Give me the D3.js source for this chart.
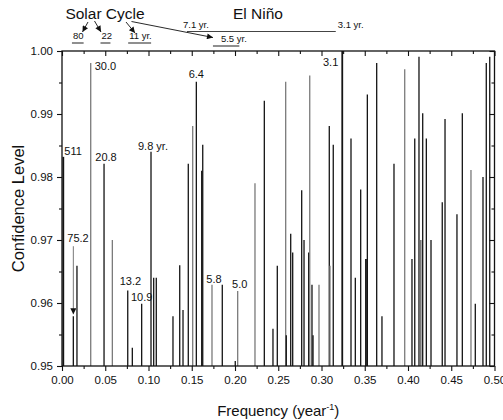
<!DOCTYPE html>
<html>
<head>
<meta charset="utf-8">
<script src="https://cdn.jsdelivr.net/npm/d3@7"></script>
<style>
  body { margin: 0; background: #fff; }
  svg text { font-family: "Liberation Sans", Arial, sans-serif; fill: #111; }
</style>
</head>
<body>
<svg width="503" height="420"></svg>
<script>
//  Data: frequency (1/year) and confidence level of each peak
const freqs = [
    0.0015, 0.0131, 0.0173, 0.0332, 0.0486, 0.0582, 0.0760, 0.0813, 0.0921, 0.1029,
    0.1060, 0.1090, 0.1283, 0.1361, 0.1399, 0.1460, 0.1511, 0.1553, 0.1615, 0.1627,
    0.1734, 0.1853, 0.2003, 0.2031, 0.2231, 0.2339, 0.2439, 0.2489, 0.2586, 0.2593,
    0.2644, 0.2667, 0.2771, 0.2798, 0.2852, 0.2864, 0.2890, 0.2902, 0.2971, 0.3090,
    0.3098, 0.3136, 0.3240, 0.3341, 0.3391, 0.3453, 0.3514, 0.3530, 0.3638, 0.3699,
    0.3838, 0.3962, 0.4046, 0.4078, 0.4127, 0.4147, 0.4170, 0.4212, 0.4266, 0.4396,
    0.4428, 0.4566, 0.4628, 0.4728, 0.4778, 0.4867, 0.4905, 0.4945
];
const confidence = [
    0.9832, 0.9579, 0.9659, 0.9981, 0.9821, 0.9700, 0.9620, 0.9529, 0.9599, 0.9840,
    0.9640, 0.9640, 0.9579, 0.9660, 0.9589, 0.9821, 0.9881, 0.9951, 0.9810, 0.9851,
    0.9629, 0.9629, 0.9508, 0.9619, 0.9790, 0.9921, 0.9559, 0.9659, 0.9951, 0.9549,
    0.9710, 0.9680, 0.9779, 0.9700, 0.9680, 0.9961, 0.9629, 0.9549, 0.9629, 0.9881,
    0.9659, 0.9851, 1.0000, 0.9861, 0.9640, 0.9780, 0.9670, 0.9931, 0.9981, 0.9579,
    0.9821, 0.9971, 0.9670, 0.9861, 0.9991, 0.9700, 0.9901, 0.9861, 0.9700, 0.9760,
    0.9892, 0.9741, 0.9901, 0.9811, 0.9599, 0.9800, 0.9981, 0.9991
];

//  Period labels, and the peak (index into freqs) each one names
const peakLabels = ['511', '75.2', '30.0', '20.8', '13.2', '10.9', '9.8 yr.', '6.4', '5.8', '5.0', '3.1'];
const peakIndex  = [0, 1, 3, 4, 6, 8, 9, 17, 20, 23, 42];

//  Bands marked above the plot (frequency ranges)
const bandLabels = ['80', '22', '11 yr.', '5.5 yr.', '7.1 yr.'];
const bandFrom   = [0.0115, 0.0445, 0.0765, 0.1745, 0.1445];
const bandTo     = [0.0250, 0.0560, 0.1030, 0.2050, 0.3165];
const endLabel   = '3.1 yr.';

const xTicks = d3.range(0, 0.5001, 0.05);
const yTicks = d3.range(0.95, 1.0001, 0.01);


const svg = d3.select('svg');

const x = d3.scaleLinear().domain([0, 0.5]).range([62, 494.5]);
const y = d3.scaleLinear().domain([0.95, 1.0]).range([366, 51]);

//  styles kept apart from the data
const grayBars = new Set([3, 5, 16, 20, 23, 24, 28, 35, 38, 40, 51, 55, 63]);
const thickBars = new Set([0, 42, 46, 55]);
const labelPos = [
    { dx: 1,   dy: -2,  anchor: 'start' },   // 511
    { dx: -6,  dy: -74, anchor: 'start' },   // 75.2
    { dx: 4,   dy: 7,   anchor: 'start' },   // 30.0
    { dx: 2,   dy: -3,  anchor: 'middle' },  // 20.8
    { dx: -8,  dy: -5,  anchor: 'start' },   // 13.2
    { dx: 0,   dy: -3,  anchor: 'middle' },  // 10.9
    { dx: -13, dy: -2,  anchor: 'start' },   // 9.8 yr.
    { dx: 0,   dy: -4,  anchor: 'middle' },  // 6.4
    { dx: 2,   dy: -2,  anchor: 'middle' },  // 5.8
    { dx: 2,   dy: -3,  anchor: 'middle' },  // 5.0
    { dx: -4,  dy: 15,  anchor: 'end' }      // 3.1
];


//======================================================
//  Bars
//======================================================
const bars = svg.append('g').attr('id', 'bars');

bars.selectAll('line')
    .data(freqs)
    .join('line')
    .attr('x1', d => x(d))
    .attr('x2', d => x(d))
    .attr('y1', y(0.95))
    .attr('y2', (d, i) => y(confidence[i]))
    .attr('stroke', (d, i) => grayBars.has(i) ? '#7a7a7a' : '#141414')
    .attr('stroke-width', (d, i) => thickBars.has(i) ? 1.8 : 1.3);


//======================================================
//  Axes
//======================================================
const fmt = d3.format('.2f');
const xMinor = d3.range(0.025, 0.5, 0.05);
const yMinor = d3.range(0.955, 1.0, 0.01);

function styleAxis(g) {
    g.select('.domain').remove();
    g.selectAll('line').attr('stroke', '#111').attr('stroke-width', 1.1);
    g.selectAll('text').style('font-size', '11.5px').attr('fill', '#222');
}

svg.append('g')
    .attr('transform', `translate(0,${y(0.95)})`)
    .call(d3.axisBottom(x).tickValues(xTicks).tickFormat(fmt).tickSize(5).tickPadding(5))
    .call(styleAxis);
svg.append('g')
    .attr('transform', `translate(0,${y(0.95)})`)
    .call(d3.axisBottom(x).tickValues(xMinor).tickFormat('').tickSize(3))
    .call(styleAxis);

svg.append('g')
    .attr('transform', `translate(${x(0)},0)`)
    .call(d3.axisLeft(y).tickValues(yTicks).tickFormat(fmt).tickSize(5).tickPadding(4))
    .call(styleAxis);
svg.append('g')
    .attr('transform', `translate(${x(0)},0)`)
    .call(d3.axisLeft(y).tickValues(yMinor).tickFormat('').tickSize(3))
    .call(styleAxis);

//  top and right: ticks point inward, no labels
svg.append('g')
    .attr('transform', `translate(0,${y(1.0)})`)
    .call(d3.axisTop(x).tickValues(xTicks).tickFormat('').tickSize(-5))
    .call(styleAxis);
svg.append('g')
    .attr('transform', `translate(0,${y(1.0)})`)
    .call(d3.axisTop(x).tickValues(xMinor).tickFormat('').tickSize(-3))
    .call(styleAxis);
svg.append('g')
    .attr('transform', `translate(${x(0.5)},0)`)
    .call(d3.axisRight(y).tickValues(yTicks).tickFormat('').tickSize(-5))
    .call(styleAxis);
svg.append('g')
    .attr('transform', `translate(${x(0.5)},0)`)
    .call(d3.axisRight(y).tickValues(yMinor).tickFormat('').tickSize(-3))
    .call(styleAxis);

//  frame
svg.append('rect')
    .attr('x', x(0))
    .attr('y', y(1.0))
    .attr('width', x(0.5) - x(0))
    .attr('height', y(0.95) - y(1.0))
    .attr('fill', 'none')
    .attr('stroke', '#111')
    .attr('stroke-width', 1.3);

//  axis titles
svg.append('text')
    .attr('transform', `translate(24,${(y(0.95) + y(1.0)) / 2}) rotate(-90)`)
    .attr('text-anchor', 'middle')
    .style('font-size', '16.5px')
    .text('Confidence Level');

const xTitle = svg.append('text')
    .attr('x', (x(0) + x(0.5)) / 2)
    .attr('y', 416)
    .attr('text-anchor', 'middle')
    .style('font-size', '15px');
xTitle.append('tspan').text('Frequency (year');
xTitle.append('tspan').attr('dy', -6).style('font-size', '9px').text('-1');
xTitle.append('tspan').attr('dy', 6).text(')');


//======================================================
//  Peak labels
//======================================================
const labels = svg.append('g').attr('id', 'peak_labels');

labels.selectAll('text')
    .data(peakLabels)
    .join('text')
    .attr('x', (d, i) => x(freqs[peakIndex[i]]) + labelPos[i].dx)
    .attr('y', (d, i) => y(confidence[peakIndex[i]]) + labelPos[i].dy)
    .attr('text-anchor', (d, i) => labelPos[i].anchor)
    .style('font-size', '11px')
    .attr('fill', '#222')
    .text(d => d);

//  arrow heads, sized in pixels
svg.append('defs').append('marker')
    .attr('id', 'head')
    .attr('viewBox', '0 0 10 10')
    .attr('refX', 10)
    .attr('refY', 5)
    .attr('markerUnits', 'userSpaceOnUse')
    .attr('markerWidth', 8)
    .attr('markerHeight', 6)
    .attr('orient', 'auto')
    .append('path')
    .attr('d', 'M0,0 L10,5 L0,10 z')
    .attr('fill', '#111');

//  arrow from the 75.2 label down to its peak
const i75 = peakIndex[1];
svg.append('line')
    .attr('x1', x(freqs[i75]))
    .attr('x2', x(freqs[i75]))
    .attr('y1', y(confidence[i75]) - 70)
    .attr('y2', y(confidence[i75]) - 2)
    .attr('stroke', '#555')
    .attr('stroke-width', 0.8)
    .attr('marker-end', 'url(#head)');


//======================================================
//  Solar cycle / El Nino annotations
//======================================================
const notes = svg.append('g').attr('id', 'notes');

notes.append('text')
    .attr('x', 105).attr('y', 19)
    .attr('text-anchor', 'middle')
    .style('font-size', '15.5px')
    .text('Solar Cycle');
notes.append('text')
    .attr('x', 258).attr('y', 19)
    .attr('text-anchor', 'middle')
    .style('font-size', '15.5px')
    .text('El Niño');

//  short bands (first four) with label above the bar, long band with label on its left
const bandY = [43, 43, 43, 46, 31.5];
bandLabels.forEach((lbl, i) => {
    const x0 = x(bandFrom[i]), x1 = x(bandTo[i]);
    notes.append('line')
        .attr('x1', x0).attr('x2', x1)
        .attr('y1', bandY[i]).attr('y2', bandY[i])
        .attr('stroke', '#444')
        .attr('stroke-width', 1.2);
    notes.append('text')
        .attr('x', i < 4 ? (i === 3 ? x0 + 8 : x0 + 1) : x0 - 4)
        .attr('y', bandY[i] - 4)
        .style('font-size', '9.5px')
        .attr('fill', '#222')
        .text(lbl);
});
notes.append('text')
    .attr('x', x(bandTo[4]) + 2)
    .attr('y', 28)
    .style('font-size', '9.5px')
    .attr('fill', '#222')
    .text(endLabel);

//  arrows from "Solar Cycle"
const arrows = [
    [88, 22, 82.5, 32],
    [94.5, 21, 101, 32],
    [126, 22, 135, 33],
    [131.5, 21.5, 213, 37.5]
];
arrows.forEach(a => {
    notes.append('line')
        .attr('x1', a[0]).attr('y1', a[1])
        .attr('x2', a[2]).attr('y2', a[3])
        .attr('stroke', '#111')
        .attr('stroke-width', 0.9)
        .attr('marker-end', 'url(#head)');
});
</script>
</body>
</html>
